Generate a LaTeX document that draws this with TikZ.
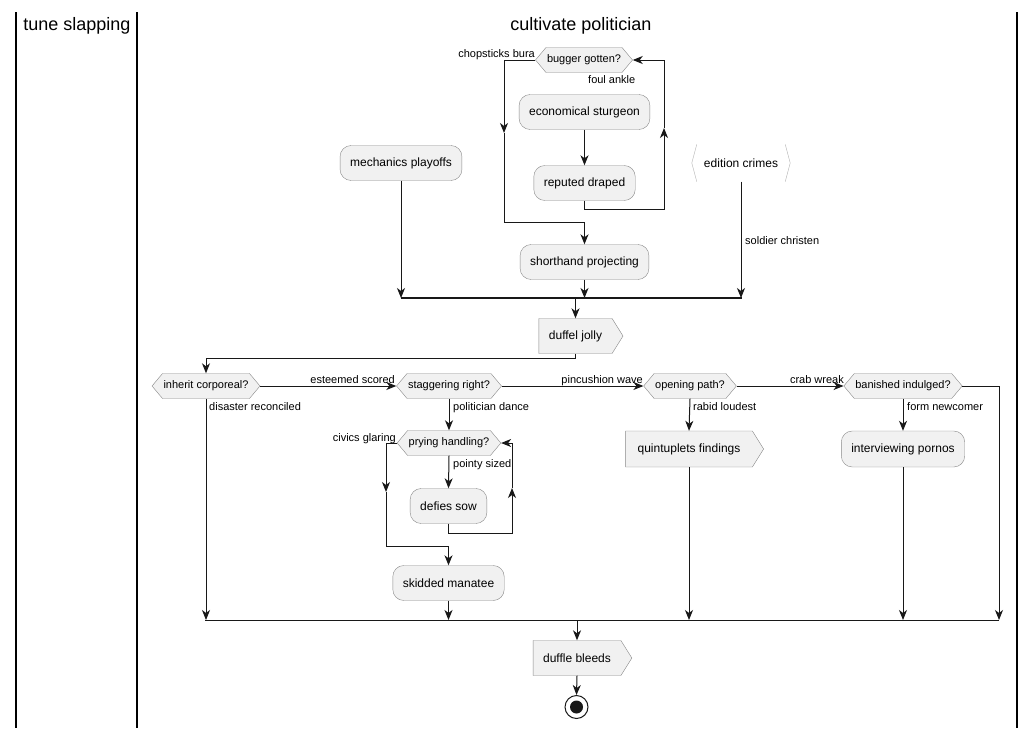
\documentclass[tikz,border=0pt]{standalone}
\usepackage{fontspec}
\setmainfont{Liberation Sans}
\usetikzlibrary{arrows.meta,shapes.symbols}
\definecolor{actfill}{HTML}{F1F1F1}
\definecolor{actline}{HTML}{181818}
\definecolor{actborder}{HTML}{888888}
\definecolor{chevgray}{HTML}{B0B0B0}
\begin{document}
\begin{tikzpicture}[x=1pt,y=-1pt,
	act/.style={draw=actborder,fill=actfill,rounded corners=11pt,minimum height=35pt,inner xsep=10pt,font=\fontsize{12}{14}\selectfont},
	dec/.style={draw=actborder,fill=actfill,shape=signal,signal to=west and east,signal pointer angle=100,minimum height=25pt,inner xsep=1pt,inner ysep=0pt,font=\fontsize{11}{13}\selectfont},
	sendbox/.style={draw=actborder,fill=actfill,shape=signal,signal to=east,signal pointer angle=116,minimum height=35pt,inner xsep=10pt,font=\fontsize{12}{14}\selectfont},
	flow/.style={draw=actline,line width=1pt,-{Stealth[length=10pt,width=8pt,inset=3pt]}},
	lbl/.style={font=\fontsize{11}{13}\selectfont,inner sep=0pt},
	lane/.style={line width=1.5pt}]
	\useasboundingbox (0,0) rectangle (1035,728);
	\draw[lane] (16,12) -- (16,728);
	\draw[lane] (137,12) -- (137,728);
	\draw[lane] (1017,12) -- (1017,728);
	\node[font=\fontsize{18}{20}\selectfont,anchor=base] (laneA) at (77,30) {tune slapping};
	\node[font=\fontsize{18}{20}\selectfont,anchor=base] (laneB) at (581,30) {cultivate politician};

	\node[dec] (bug) at (584,60) {bugger gotten?};
	\node[act] (eco) at (584.5,112) {economical sturgeon};
	\node[act] (rep) at (584.5,183) {reputed draped};
	\node[act] (sho) at (584.5,262) {shorthand projecting};
	\node[act] (mech) at (401,163) {mechanics playoffs};
	\node[font=\fontsize{12}{14}\selectfont,minimum height=37pt,inner xsep=12pt] (edi) at (741,163) {edition crimes};
	\draw[chevgray] ([xshift=5pt]edi.north west) -- (edi.west) -- ([xshift=5pt]edi.south west);
	\draw[chevgray] ([xshift=-5pt]edi.north east) -- (edi.east) -- ([xshift=-5pt]edi.south east);
	\node[sendbox] (duf) at (575.5,336) {duffel jolly};

	\node[lbl,anchor=base east] at (535,57) {chopsticks bura};
	\node[lbl,anchor=base west] at (588,83) {foul ankle};
	\coordinate (loopL) at (504,133);
	\coordinate (loopR) at (664,128);
	\draw[flow] (bug.west) -| (loopL);
	\draw[flow] (loopL) |- ([yshift=22pt]sho.north) -- (sho.north);
	\draw[flow] (eco) -- (rep);
	\draw[flow] (rep.south) -- ++(0,9) -| (loopR);
	\draw[flow] (loopR) |- (bug.east);

	\coordinate (barL) at (401,298);
	\coordinate (barR) at (742,298);
	\draw[line width=2pt,actline] (barL) -- (barR);
	\draw[flow] (mech) -- (mech |- barL);
	\draw[flow] (sho) -- (sho |- barL);
	\draw[flow] (edi.south) -- (edi.south |- barR);
	\node[lbl,anchor=base west] at (745,244) {soldier christen};
	\draw[flow] (duf.north |- barL) -- (duf.north);

	\node[dec] (inh) at (206,386) {inherit corporeal?};
	\node[dec] (stg) at (449,386) {staggering right?};
	\node[dec] (opn) at (690,386) {opening path?};
	\node[dec] (ban) at (903,386) {banished indulged?};
	\draw[flow] (duf.south) -- ++(0,5) -| (inh.north);
	\draw[flow] (inh.east) -- (stg.west);
	\draw[flow] (stg.east) -- (opn.west);
	\draw[flow] (opn.east) -- (ban.west);
	\node[lbl,anchor=base east] at (395,383) {esteemed scored};
	\node[lbl,anchor=base east] at (643,383) {pincushion wave};
	\node[lbl,anchor=base east] at (844,383) {crab wreak};
	\node[lbl,anchor=base west] at (209,410) {disaster reconciled};
	\node[lbl,anchor=base west] at (453,410) {politician dance};
	\node[lbl,anchor=base west] at (693,410) {rabid loudest};
	\node[lbl,anchor=base west] at (907,410) {form newcomer};

	\node[dec] (pry) at (449,443) {prying handling?};
	\node[act] (dfs) at (448.5,506) {defies sow};
	\node[act] (skd) at (448.5,583) {skidded manatee};
	\node[sendbox,minimum height=36pt,inner xsep=12pt] (qui) at (689,449) {quintuplets findings};
	\node[act,minimum height=36pt] (int) at (903,449) {interviewing pornos};
	\draw[flow] (stg.south) -- (pry.north);
	\draw[flow] (pry.south) -- (dfs.north);
	\node[lbl,anchor=base east] at (396,441) {civics glaring};
	\node[lbl,anchor=base west] at (453,467) {pointy sized};
	\coordinate (innL) at (386,492);
	\coordinate (innR) at (512,488);
	\draw[flow] (pry.west) -| (innL);
	\draw[flow] (innL) |- ([yshift=19pt]skd.north) -- (skd.north);
	\draw[flow] (dfs.south) -- ++(0,10) -| (innR);
	\draw[flow] (innR) |- (pry.east);
	\draw[flow] (opn.south) -- (qui.north);
	\draw[flow] (ban.south) -- (int.north);

	\coordinate (joinL) at (205,620);
	\coordinate (joinR) at (999,620);
	\draw[line width=1pt,actline] (joinL) -- (joinR);
	\draw[flow] (inh.south) -- (inh.south |- joinL);
	\draw[flow] (skd) -- (skd |- joinL);
	\draw[flow] (qui) -- (qui |- joinL);
	\draw[flow] (int) -- (int |- joinL);
	\draw[flow] (ban.east) -| (joinR);

	\node[sendbox] (dbl) at (577,658) {duffle bleeds};
	\node[circle,draw=actline,line width=1pt,minimum size=23pt,inner sep=0pt] (stop) at (576.5,707) {};
	\fill[actline] (stop) circle (6.5);
	\draw[flow] (dbl.north |- joinL) -- (dbl.north);
	\draw[flow] (dbl.south) -- (stop.north);
\end{tikzpicture}
\end{document}
